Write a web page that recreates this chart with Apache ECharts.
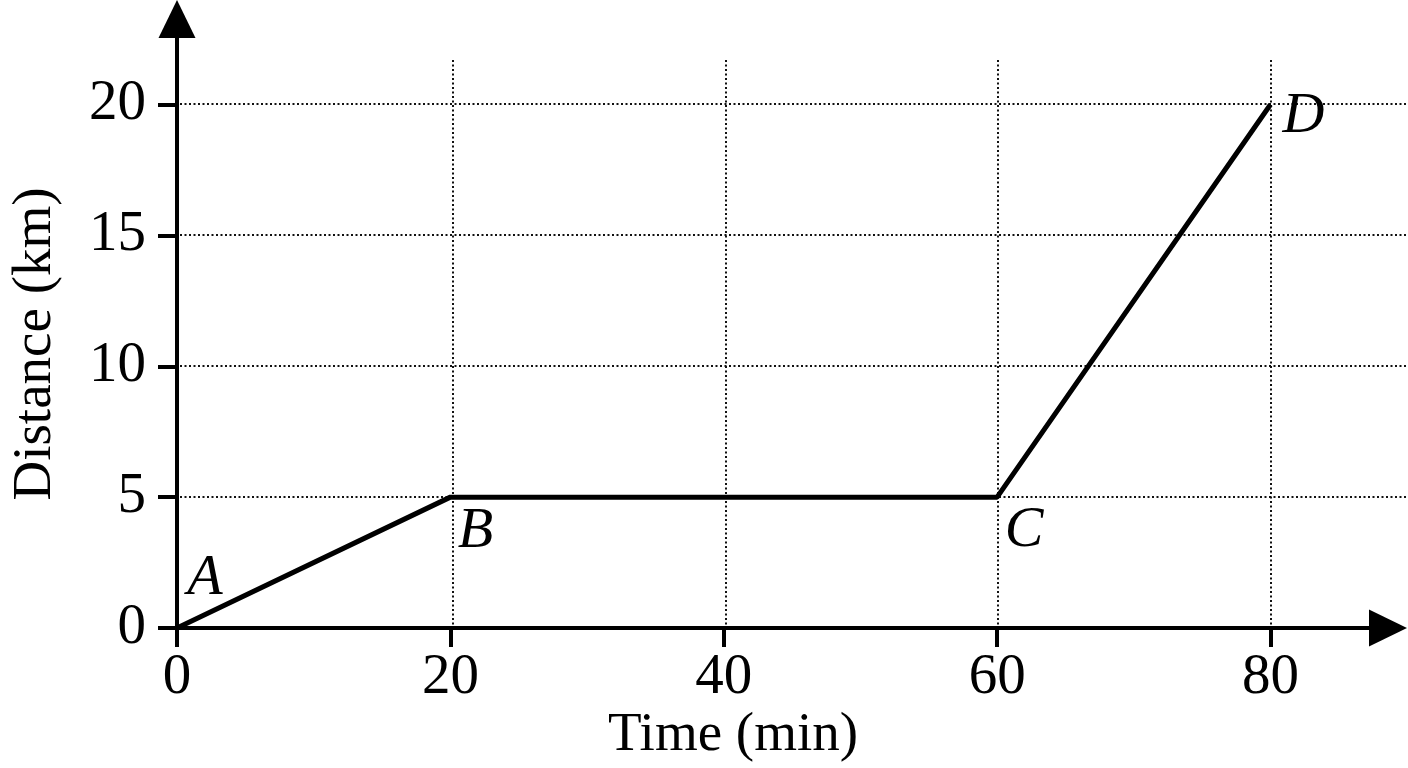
<!DOCTYPE html>
<html>
<head>
<meta charset="utf-8">
<title>Distance-time graph</title>
<script src="https://cdn.jsdelivr.net/npm/echarts@6/dist/echarts.min.js"></script>
<style>
  html, body { margin: 0; padding: 0; background: #fff; }
  #wrap { position: relative; width: 1408px; height: 768px; }
  #back, #front { position: absolute; left: 0; top: 0; width: 1408px; height: 768px; }
</style>
</head>
<body>
<div id="wrap">
    <!-- back layer: dotted grid, arrows, axis names -->
    <div id="back"></div>
    <!-- front layer: axes with ticks and labels, the line -->
    <div id="front"></div>
</div>
<script>
// data
var times = [0, 20, 60, 80];        // min
var distances = [0, 5, 5, 20];      // km
var pointNames = ['A', 'B', 'C', 'D'];
var xTicks = [0, 20, 40, 60, 80];
var yTicks = [0, 5, 10, 15, 20];

// label offsets (px) from each point
var labelOffsets = [[28, -49], [25, 35], [27, 34], [33, 12]];

var FONT = 'Liberation Serif';
var xStep = xTicks[1] - xTicks[0];
var yStep = yTicks[1] - yTicks[0];
var xLast = xTicks[xTicks.length - 1];
var yLast = yTicks[yTicks.length - 1];

function dotted() { return { color: '#111', width: 2, type: [2, 2.5] }; }
function black4() { return { color: '#000', width: 4 }; }
function off() { return { show: false }; }
function bareAxis(extra) {
    var a = { type: 'value', axisLine: off(), axisTick: off(), axisLabel: off(), splitLine: off() };
    for (var k in extra) a[k] = extra[k];
    return a;
}

// ---------- back layer ----------
var back = echarts.init(document.getElementById('back'));
back.setOption({
    animation: false,
    backgroundColor: '#fff',
    grid: [
        // 0: dotted grid lines, y axis name
        { left: 177, right: 2, top: 60, bottom: 140 },
        // 1: arrowed axis lines
        { left: 177, right: 20, top: 19, bottom: 140 },
        // 2: holds the x axis name
        { left: 177, right: 119, top: 104.5, bottom: 140 }
    ],
    xAxis: [
        bareAxis({
            gridIndex: 0, min: 0, max: 89.9, interval: xStep,
            splitLine: { show: true, showMinLine: false, showMaxLine: false, lineStyle: dotted() }
        }),
        bareAxis({
            gridIndex: 1, min: 0, max: 1,
            axisLine: {
                show: true, symbol: ['none', 'triangle'], symbolSize: [37, 38],
                lineStyle: black4()
            }
        }),
        bareAxis({
            gridIndex: 2, min: 0, max: 1,
            name: 'Time (min)', nameLocation: 'middle', nameGap: 82,
            nameTextStyle: { fontFamily: FONT, fontSize: 55, color: '#000' }
        })
    ],
    yAxis: [
        bareAxis({
            gridIndex: 0, min: 0, max: 21.68, interval: yStep,
            name: 'Distance (km)', nameLocation: 'middle', nameGap: 117,
            nameTextStyle: { fontFamily: FONT, fontSize: 55, color: '#000' },
            splitLine: { show: true, showMinLine: false, showMaxLine: false, lineStyle: dotted() }
        }),
        bareAxis({
            gridIndex: 1, min: 0, max: 1,
            axisLine: {
                show: true, symbol: ['none', 'triangle'], symbolSize: [37, 38],
                lineStyle: black4()
            }
        }),
        bareAxis({ gridIndex: 2, min: 0, max: 1 })
    ]
});

// ---------- front layer ----------
var front = echarts.init(document.getElementById('front'));

var points = times.map(function (t, i) {
    return {
        value: [t, distances[i]],
        label: { offset: labelOffsets[i] }
    };
});

front.setOption({
    animation: false,
    backgroundColor: 'transparent',
    grid: { left: 177, right: 137.5, top: 104.5, bottom: 140 },
    xAxis: {
        type: 'value', min: xTicks[0], max: xLast, interval: xStep,
        axisLine: { show: true, lineStyle: black4() },
        axisTick: { show: true, inside: false, length: 19, lineStyle: black4() },
        axisLabel: { margin: 22, fontFamily: FONT, fontSize: 57, color: '#000' },
        splitLine: off()
    },
    yAxis: {
        type: 'value', min: yTicks[0], max: yLast, interval: yStep,
        axisLine: { show: true, lineStyle: black4() },
        axisTick: { show: true, inside: false, length: 19, lineStyle: black4() },
        axisLabel: { margin: 31, fontFamily: FONT, fontSize: 57, color: '#000' },
        splitLine: off()
    },
    series: [
        {
            type: 'line',
            data: points,
            clip: false,
            symbol: 'circle', symbolSize: 1,
            itemStyle: { color: '#000' },
            lineStyle: { color: '#000', width: 5 },
            label: {
                show: true,
                position: 'inside',
                formatter: function (p) { return pointNames[p.dataIndex]; },
                fontFamily: FONT, fontSize: 58, fontStyle: 'italic', color: '#000'
            }
        }
    ]
});
</script>
</body>
</html>
